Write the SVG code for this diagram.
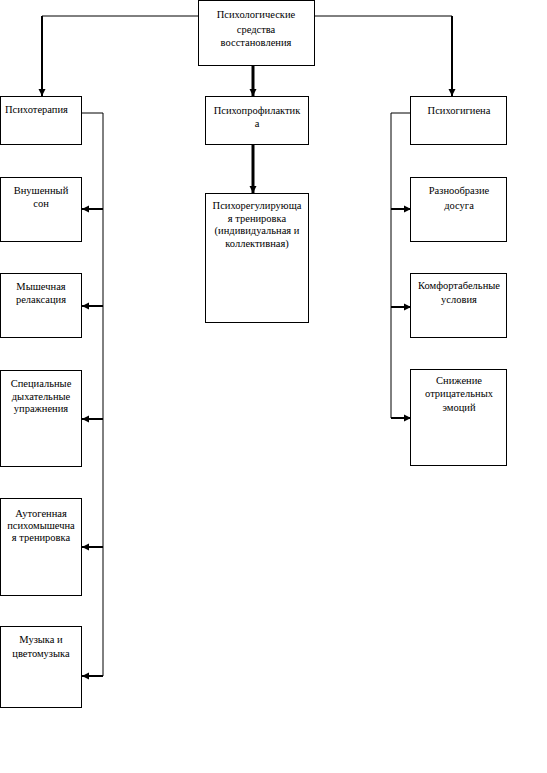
<svg xmlns="http://www.w3.org/2000/svg" width="547" height="773" viewBox="0 0 547 773" font-family="'Liberation Serif', 'Times New Roman', serif">
<style>
.box{fill:#fff;stroke:#000;stroke-width:1}
text{font-family:'Liberation Serif','Times New Roman',serif;font-size:10.5px;fill:#000}
.c{text-anchor:middle}
.thin{fill:none;stroke:#000;stroke-width:1}
.med{fill:none;stroke:#000;stroke-width:2}
.thick{fill:none;stroke:#000;stroke-width:3}
</style>
<defs>
<marker id="ah" markerUnits="userSpaceOnUse" markerWidth="8" markerHeight="8" refX="7" refY="4" orient="auto">
<path d="M0,0.5 L7,4 L0,7.5 Z" fill="#000"/>
</marker>
</defs>
<rect width="547" height="773" fill="#fff"/>
<g id="connectors">
<path class="thin" d="M198,16 H42"/>
<path class="med" d="M42,16 V96" marker-end="url(#ah)"/>
<path class="thin" d="M314,16 H452"/>
<path class="med" d="M452,16 V96" marker-end="url(#ah)"/>
<path class="thick" d="M253,65 V96" marker-end="url(#ah)"/>
<path class="thick" d="M253,145 V193" marker-end="url(#ah)"/>
<path class="thin" d="M82,113 H103 V676"/>
<path class="med" d="M103,209 H82" marker-end="url(#ah)"/>
<path class="med" d="M103,306 H82" marker-end="url(#ah)"/>
<path class="med" d="M103,419 H82" marker-end="url(#ah)"/>
<path class="med" d="M103,547 H82" marker-end="url(#ah)"/>
<path class="med" d="M103,676 H82" marker-end="url(#ah)"/>
<path class="thin" d="M411,113 H391 V418"/>
<path class="med" d="M391,209 H411" marker-end="url(#ah)"/>
<path class="med" d="M391,307 H411" marker-end="url(#ah)"/>
<path class="med" d="M391,418 H411" marker-end="url(#ah)"/>
</g>
<g id="n-root"><rect class="box" x="198.5" y="0.5" width="116" height="65"/>
<text class="c" font-size="11.5" x="256" y="18">Психологические</text>
<text class="c" font-size="11.5" x="256" y="33">средства</text>
<text class="c" font-size="11.5" x="256" y="46">восстановления</text></g>
<g id="n-psychotherapy"><rect class="box" x="0.5" y="96.5" width="81" height="48"/>
<text x="5" y="113">Психотерапия</text></g>
<g id="n-prophylaxis"><rect class="box" x="205.5" y="96.5" width="103" height="48"/>
<text class="c" x="257" y="114">Психопрофилактик</text>
<text class="c" x="257" y="127">а</text></g>
<g id="n-hygiene"><rect class="box" x="410.5" y="96.5" width="96" height="48"/>
<text class="c" x="459" y="114">Психогигиена</text></g>
<g id="n-sleep"><rect class="box" x="0.5" y="177.5" width="81" height="64"/>
<text class="c" x="41" y="194">Внушенный</text>
<text class="c" x="41" y="207">сон</text></g>
<g id="n-relax"><rect class="box" x="0.5" y="273.5" width="81" height="64"/>
<text class="c" x="41" y="290">Мышечная</text>
<text class="c" x="41" y="303">релаксация</text></g>
<g id="n-breath"><rect class="box" x="0.5" y="370.5" width="81" height="96"/>
<text class="c" x="41" y="387">Специальные</text>
<text class="c" x="41" y="400">дыхательные</text>
<text class="c" x="41" y="412">упражнения</text></g>
<g id="n-autogenic"><rect class="box" x="0.5" y="498.5" width="81" height="97"/>
<text class="c" x="41" y="517">Аутогенная</text>
<text class="c" x="41" y="529">психомышечна</text>
<text class="c" x="41" y="541">я тренировка</text></g>
<g id="n-music"><rect class="box" x="0.5" y="626.5" width="81" height="81"/>
<text class="c" x="41" y="643">Музыка и</text>
<text class="c" x="41" y="657">цветомузыка</text></g>
<g id="n-psychoreg"><rect class="box" x="205.5" y="193.5" width="103" height="129"/>
<text class="c" x="257" y="209">Психорегулирующа</text>
<text class="c" x="257" y="222">я тренировка</text>
<text class="c" x="257" y="234">(индивидуальная и</text>
<text class="c" x="257" y="247">коллективная)</text></g>
<g id="n-leisure"><rect class="box" x="410.5" y="177.5" width="96" height="64"/>
<text class="c" x="459" y="194">Разнообразие</text>
<text class="c" x="459" y="209">досуга</text></g>
<g id="n-comfort"><rect class="box" x="410.5" y="273.5" width="96" height="64"/>
<text class="c" x="459" y="289">Комфортабельные</text>
<text class="c" x="459" y="303">условия</text></g>
<g id="n-emotions"><rect class="box" x="410.5" y="369.5" width="96" height="96"/>
<text class="c" x="459" y="384">Снижение</text>
<text class="c" x="459" y="397">отрицательных</text>
<text class="c" x="459" y="411">эмоций</text></g>
</svg>
